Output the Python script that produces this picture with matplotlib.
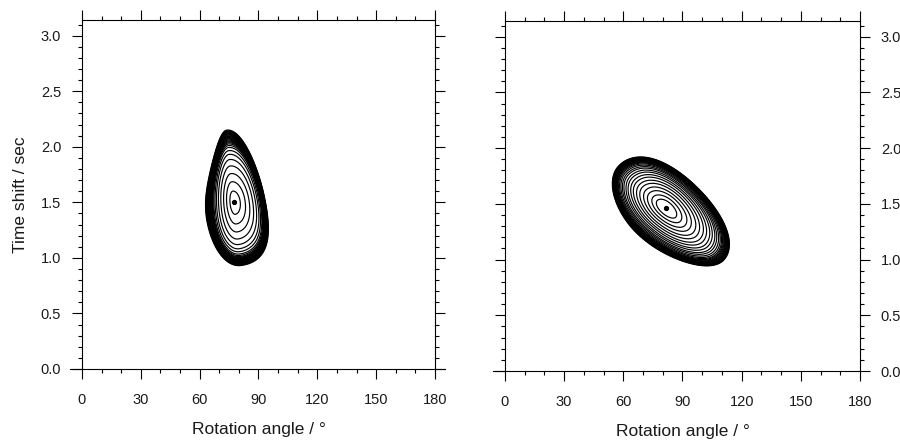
import numpy as np
import matplotlib
matplotlib.use("Agg")
import matplotlib.pyplot as plt
from matplotlib.ticker import MultipleLocator, FormatStrFormatter

plt.rcParams['font.family'] = ['Liberation Sans', 'DejaVu Sans']

# ---- chart text / ticks ----
x_label = "Rotation angle / \u00b0"
y_label = "Time shift / sec"
x_major = [0, 30, 60, 90, 120, 150, 180]
y_major = [0.0, 0.5, 1.0, 1.5, 2.0, 2.5, 3.0]

# ---- best-fit points (rotation angle deg, time shift s) ----
left_best = (77.5, 1.50)
right_best = (81.6, 1.46)

# ---- misfit-surface shape (axis fractions) ----
# extents / steepness: [far end, near end, side +, side -]
left_angle = 95.5
left_extents = [0.208, 0.182, 0.088, 0.081]
left_steep = [1.2, 0.8, 0.7, 1.5]
left_taper = 0.22

right_angle = -42.0
right_extents = [0.220, 0.180, 0.108, 0.104]
right_steep = [1.0, 0.85, 1.25, 0.9]
right_taper = 0.0

# ---- contour rings: relative size of each ring (1 = outermost contour) ----
left_rings = [0.17, 0.31, 0.43, 0.54, 0.63, 0.70, 0.75, 0.79, 0.815, 0.835,
              0.85, 0.862, 0.873, 0.884, 0.895, 0.905, 0.915, 0.925, 0.934,
              0.943, 0.952, 0.960, 0.968, 0.976, 0.984, 0.992, 1.0]
right_rings = [0.17, 0.25, 0.33, 0.40, 0.47, 0.53, 0.59, 0.64, 0.69, 0.73,
               0.77, 0.80, 0.83, 0.855, 0.875, 0.89, 0.903, 0.915, 0.926,
               0.936, 0.946, 0.955, 0.964, 0.972, 0.980, 0.987, 0.994, 1.0]


def side_term(t, w):
    a = np.abs(t)
    inner = w * a**2 + (1 - w) * a**4
    return np.where(a <= 1, inner, a**2)


def misfit(X, Y, best, angle, extents, steep, taper):
    dx = X / 180.0 - best[0] / 180.0
    dy = Y / np.pi - best[1] / np.pi
    th = np.deg2rad(angle)
    v = dx * np.cos(th) + dy * np.sin(th)
    u = dx * np.sin(th) - dy * np.cos(th)
    tv = v / np.where(v >= 0, extents[0], extents[1])
    wv = np.where(v >= 0, steep[0], steep[1])
    Ru = np.where(u >= 0, extents[2], extents[3]) * np.clip(1 - taper * tv, 0.3, None)
    wu = np.where(u >= 0, steep[2], steep[3])
    tu = u / Ru
    return np.sqrt(side_term(tv, wv) + side_term(tu, wu))


xg = np.linspace(0, 180, 1600)
yg = np.linspace(0, np.pi, 1600)
X, Y = np.meshgrid(xg, yg)

fig = plt.figure(figsize=(9, 4.42), dpi=100)
ax1 = fig.add_axes([0.0911, 0.1652, 0.3922, 0.7896])
ax2 = fig.add_axes([0.5611, 0.1606, 0.3944, 0.7919])

panels = [
    (ax1, left_best, left_angle, left_extents, left_steep, left_taper, left_rings),
    (ax2, right_best, right_angle, right_extents, right_steep, right_taper, right_rings),
]

for i, (ax, best, ang, ext, w, tp, rings) in enumerate(panels):
    Z = misfit(X, Y, best, ang, ext, w, tp)
    ax.contour(X, Y, Z, levels=rings, colors='black', linewidths=0.85)
    ax.plot([best[0]], [best[1]], 'o', color='black', markersize=2.8)
    ax.set_xlim(0, 180)
    ax.set_ylim(0, np.pi)
    ax.set_xticks(x_major)
    ax.set_yticks(y_major)
    ax.xaxis.set_minor_locator(MultipleLocator(10))
    ax.yaxis.set_minor_locator(MultipleLocator(0.1))
    ax.yaxis.set_major_formatter(FormatStrFormatter('%.1f'))
    ax.tick_params(which='both', direction='out', top=True, right=True,
                   width=0.8, colors='black', labelsize=10.5, labelcolor='#1a1a1a')
    ax.tick_params(which='major', length=7, pad=10)
    ax.tick_params(which='minor', length=3)
    ax.tick_params(axis='y', which='major', pad=8)
    for s in ax.spines.values():
        s.set_linewidth(0.8)
    ax.set_xlabel(x_label, fontsize=12.5, color='#1a1a1a', labelpad=11)
    if i == 0:
        ax.tick_params(labelleft=True, labelright=False)
        ax.set_ylabel(y_label, fontsize=12.5, color='#1a1a1a', labelpad=9)
        ax.spines['bottom'].set_bounds(-6, 185)
    else:
        ax.tick_params(labelleft=False, labelright=True)
        ax.spines['bottom'].set_bounds(-6, 180)

fig.savefig("out.png", dpi=100)
